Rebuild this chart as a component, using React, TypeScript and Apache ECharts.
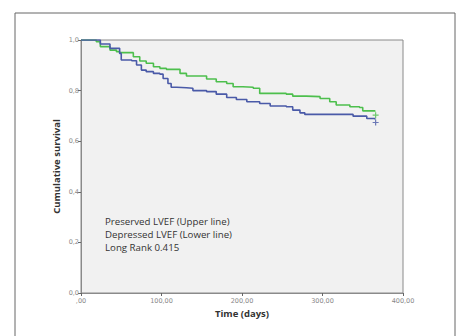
import React, { useEffect, useRef } from "react";
import * as echarts from "echarts";

const preservedDays = [0, 19, 24, 36, 44, 48, 57, 65, 73, 81, 90, 98, 106, 115, 123, 131, 143, 156, 168, 181, 189, 201, 214, 222, 230, 255, 263, 280, 297, 309, 317, 334, 346, 350, 365];
const preservedSurv = [1.0, 0.993, 0.974, 0.96, 0.954, 0.95, 0.95, 0.934, 0.917, 0.908, 0.894, 0.888, 0.884, 0.884, 0.868, 0.858, 0.858, 0.846, 0.835, 0.828, 0.815, 0.813, 0.809, 0.789, 0.789, 0.786, 0.778, 0.776, 0.769, 0.756, 0.743, 0.736, 0.733, 0.72, 0.716];
const depressedDays = [0, 20, 24, 36, 48, 50, 63, 69, 75, 81, 90, 98, 102, 108, 112, 119, 131, 139, 156, 168, 181, 193, 206, 222, 235, 255, 263, 272, 278, 330, 338, 355, 365];
const depressedSurv = [1.0, 1.0, 0.984, 0.967, 0.947, 0.921, 0.918, 0.901, 0.881, 0.875, 0.868, 0.865, 0.848, 0.828, 0.813, 0.811, 0.809, 0.8, 0.796, 0.786, 0.773, 0.765, 0.756, 0.749, 0.739, 0.736, 0.723, 0.712, 0.706, 0.706, 0.699, 0.69, 0.686];
const censorPreserved = [[366, 0.703]];
const censorDepressed = [[366, 0.674]];
const yTicks = [0, 0.2, 0.4, 0.6, 0.8, 1.0];
const xTicks = [0, 100, 200, 300, 400];
const annotation = ["Preserved LVEF (Upper line)", "Depressed LVEF (Lower line)", "Long Rank 0.415"];

const GREEN = "#4dbf4d";
const BLUE = "#4a5aa8";
const PLUS = "path://M4,0 L6,0 L6,4 L10,4 L10,6 L6,6 L6,10 L4,10 L4,6 L0,6 L0,4 L4,4 Z";

export default function App() {
  const ref = useRef<HTMLDivElement>(null);
  useEffect(() => {
    if (!ref.current) return;
    const chart = echarts.init(ref.current, null, { renderer: "svg" });
    const fmtY = (v: number) => v.toFixed(1).replace(".", ",");
    const fmtX = (v: number) => (v === 0 ? ",00" : v.toFixed(2).replace(".", ","));
    chart.setOption({
      animation: false,
      backgroundColor: "#ffffff",
      grid: {
        left: 81, top: 40, width: 322, height: 253,
        show: true, backgroundColor: "#f1f1f1", borderColor: "#8a8a8a", borderWidth: 1,
      },
      xAxis: {
        type: "value", min: 0, max: 400, interval: 100,
        name: "Time (days)", nameLocation: "middle", nameGap: 15,
        nameTextStyle: { fontFamily: "Open Sans", fontWeight: "bold", fontSize: 9.5, color: "#333" },
        axisLine: { show: true, lineStyle: { color: "#8a8a8a" } },
        axisTick: { show: true, length: 3, lineStyle: { color: "#666" } },
        axisLabel: { formatter: fmtX, fontSize: 6.5, color: "#888", margin: 4, fontFamily: "DejaVu Sans" },
        splitLine: { show: false },
      },
      yAxis: {
        type: "value", min: 0, max: 1, interval: 0.2,
        name: "Cumulative survival", nameLocation: "middle", nameGap: 20, nameMoveOverlap: false,
        nameTextStyle: { fontFamily: "Open Sans", fontWeight: "bold", fontSize: 9.5, color: "#333" },
        axisLine: { show: true, lineStyle: { color: "#8a8a8a" } },
        axisTick: { show: true, length: 3, lineStyle: { color: "#666" } },
        axisLabel: { formatter: fmtY, fontSize: 6.5, color: "#888", margin: 2, fontFamily: "DejaVu Sans" },
        splitLine: { show: false },
      },
      graphic: [
        {
          type: "rect", shape: { x: 15, y: 13, width: 440, height: 340 },
          style: { fill: "none", stroke: "#666", lineWidth: 1 }, silent: true, z: -1,
        },
        ...annotation.map((t, i) => ({
          type: "text", left: 105, top: 216 + i * 13,
          style: { text: t, fontFamily: "Open Sans", fontSize: 9.7, fill: "#333" },
        })),
      ],
      series: [
        {
          type: "line", step: "end", showSymbol: false,
          data: preservedDays.map((d, i) => [d, preservedSurv[i]]),
          lineStyle: { color: GREEN, width: 1.6 }, z: 3,
        },
        {
          type: "line", step: "end", showSymbol: false,
          data: depressedDays.map((d, i) => [d, depressedSurv[i]]),
          lineStyle: { color: BLUE, width: 1.6 }, z: 4,
        },
        {
          type: "scatter", data: censorPreserved, symbol: PLUS, symbolSize: 6,
          itemStyle: { color: GREEN }, z: 5,
        },
        {
          type: "scatter", data: censorDepressed, symbol: PLUS, symbolSize: 6,
          itemStyle: { color: BLUE }, z: 5,
        },
      ],
    });
    return () => chart.dispose();
  }, []);
  return <div ref={ref} style={{ position: "fixed", left: 0, top: 0, width: 459, height: 336 }} />;
}
